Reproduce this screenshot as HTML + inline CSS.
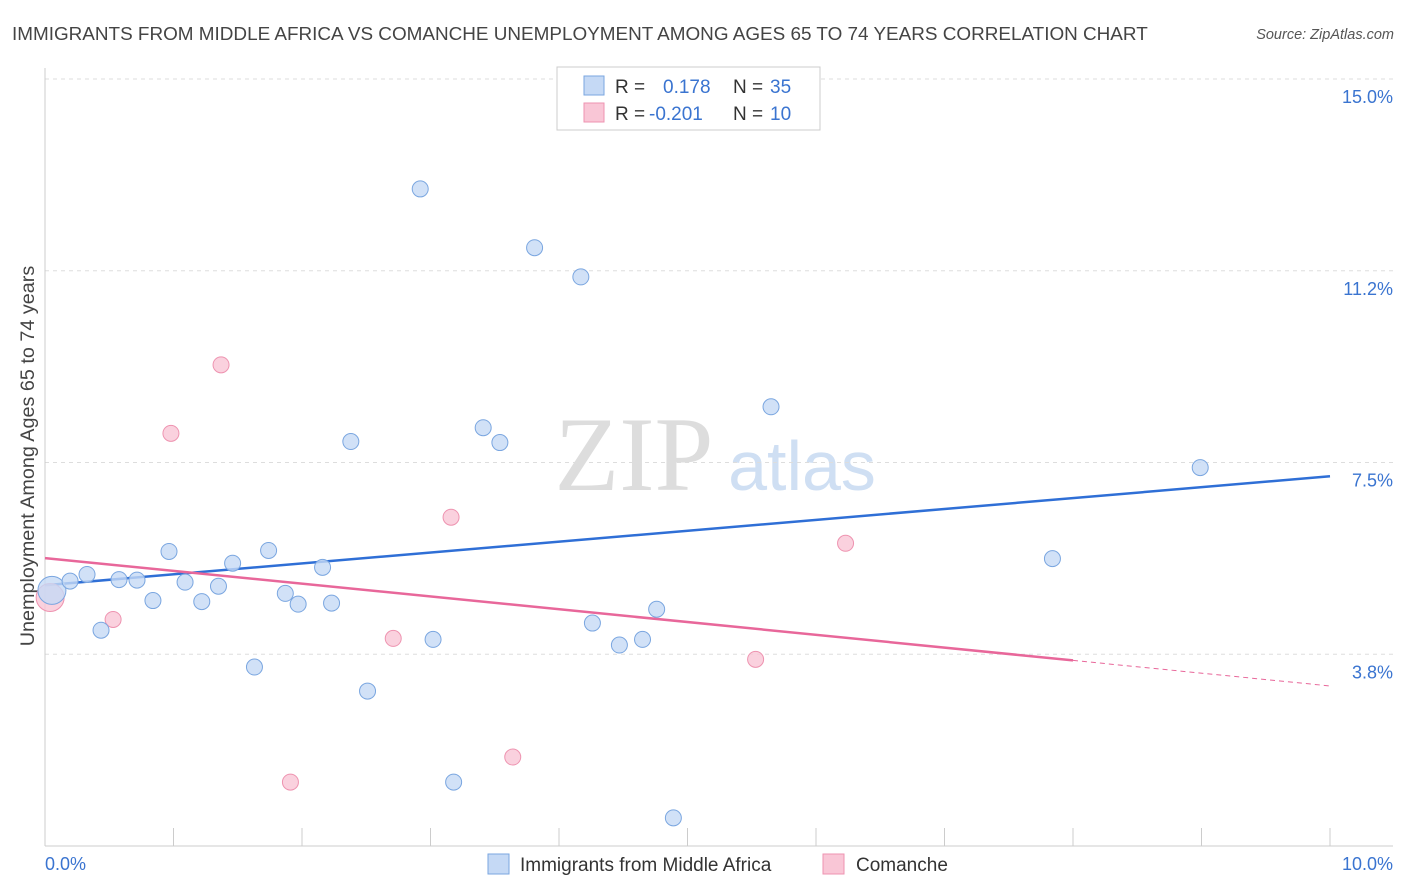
<!DOCTYPE html>
<html><head><meta charset="utf-8"><style>
body{margin:0;background:#fff;font-family:"Liberation Sans",sans-serif;}
svg{display:block}
</style></head><body>
<svg id="chart" width="1406" height="892">
<text x="12" y="40" font-size="18.9" fill="#444">IMMIGRANTS FROM MIDDLE AFRICA VS COMANCHE UNEMPLOYMENT AMONG AGES 65 TO 74 YEARS CORRELATION CHART</text>
<text x="1394" y="39" font-size="14.5" fill="#555" font-style="italic" text-anchor="end">Source: ZipAtlas.com</text>
<text transform="translate(34,456) rotate(-90)" font-size="19.8" fill="#444" text-anchor="middle">Unemployment Among Ages 65 to 74 years</text>
<g>
<text x="634" y="490" font-size="106" fill="#ddd" font-family="Liberation Serif,serif" text-anchor="middle">ZIP</text>
<text x="802" y="490" font-size="70" fill="#cfdff3" text-anchor="middle">atlas</text>
</g>
<g id="grid"></g><g id="axes"></g><g id="lines"></g><g id="pts"></g>
<g>
<rect x="557" y="67" width="263" height="63" fill="#fff" stroke="#ccc"/>
<rect x="584" y="76" width="20" height="19" fill="#c5d9f5" stroke="#7aa6e0"/>
<rect x="584" y="103" width="20" height="19" fill="#f9c6d6" stroke="#ee93b0"/>
<text x="615" y="93" font-size="19" fill="#333">R = <tspan x="663" fill="#3a74d0">0.178</tspan><tspan x="733" fill="#333">N = </tspan><tspan x="770" fill="#3a74d0">35</tspan></text>
<text x="615" y="120" font-size="19" fill="#333">R = <tspan x="649" fill="#3a74d0">-0.201</tspan><tspan x="733" fill="#333">N = </tspan><tspan x="770" fill="#3a74d0">10</tspan></text>
</g>
<g>
<rect x="488" y="854" width="21" height="20" fill="#c5d9f5" stroke="#7aa6e0"/>
<text x="520" y="871" font-size="19" fill="#333">Immigrants from Middle Africa</text>
<rect x="823" y="854" width="21" height="20" fill="#f9c6d6" stroke="#ee93b0"/>
<text x="856" y="871" font-size="19" fill="#333">Comanche</text>
</g>
</svg>
<script>
const blueX=[0.054,0.195,0.327,0.436,0.576,0.716,0.84,0.965,1.09,1.22,1.35,1.46,1.63,1.74,1.87,1.97,2.16,2.23,2.38,2.51,2.92,3.02,3.18,3.41,3.54,3.81,4.17,4.26,4.47,4.65,4.76,4.89,5.65,7.84,8.99];
const blueY=[5.0,5.18,5.31,4.22,5.21,5.2,4.8,5.76,5.16,4.78,5.08,5.53,3.5,5.78,4.94,4.73,5.45,4.75,7.91,3.03,12.85,4.04,1.25,8.18,7.89,11.7,11.13,4.36,3.93,4.04,4.63,0.55,8.59,5.62,7.4];
const pinkX=[0.04,0.53,0.98,1.37,1.91,2.71,3.16,3.64,5.53,6.23];
const pinkY=[4.86,4.43,8.07,9.41,1.25,4.06,6.43,1.74,3.65,5.92];
const yTicks=[3.75,7.5,11.25,15];
const yTickLabels=["3.8%","7.5%","11.2%","15.0%"];
const blueFit=[5.10,0.213];
const pinkFit=[5.63,-0.25];
const NS="http://www.w3.org/2000/svg";
const X0=45,X1=1330,YB=846,YT=79;
const sx=v=>X0+(v/10)*(X1-X0);
const sy=v=>YB-(v/15)*(YB-YT);
function mk(t,a,p){const e=document.createElementNS(NS,t);for(const k in a)e.setAttribute(k,a[k]);p.appendChild(e);return e;}
const grid=document.getElementById('grid'),axes=document.getElementById('axes'),lines=document.getElementById('lines'),pts=document.getElementById('pts');
yTicks.forEach((v,i)=>{
 const l=mk('line',{x1:X0,x2:1393,y1:sy(v),y2:sy(v),stroke:'#ddd','stroke-dasharray':'4,4'},grid);
 
 
 const t=mk('text',{x:1393,y:sy(v)+24,'font-size':18,fill:'#3a74d0','text-anchor':'end'},grid);
 t.textContent=yTickLabels[i];
 
 
});
let a=mk('line',{x1:X0,x2:X0,y1:68,y2:YB,stroke:'#ccc'},axes);


a=mk('line',{x1:X0,x2:1393,y1:YB,y2:YB,stroke:'#ccc'},axes);


for(let i=0;i<=10;i++){const t=mk('line',{x1:sx(i),x2:sx(i),y1:828,y2:YB,stroke:'#ccc'},axes);
 
 }
[["0.0%",45,'start'],["10.0%",1393,'end']].forEach(d=>{const t=mk('text',{x:d[1],y:870,'font-size':18,fill:'#3a74d0','text-anchor':d[2]},axes);t.textContent=d[0];
 
 });
function pt(x,y,r,f,s,n){const c=mk('circle',{cx:sx(x),cy:sy(y),r:r,fill:f,stroke:s,'stroke-width':1,'fill-opacity':0.8},pts);
 
 }
pinkX.forEach((x,i)=>pt(x,pinkY[i],i==0?14:8,'#f9c6d6','#ee93b0','comanche-point'));
blueX.forEach((x,i)=>pt(x,blueY[i],i==0?14:8,'#c5d9f5','#7aa6e0','immigrants-point'));
let L=mk('line',{x1:sx(0),y1:sy(blueFit[0]),x2:sx(10),y2:sy(blueFit[0]+10*blueFit[1]),stroke:'#2f6fd6','stroke-width':2.5},lines);


L=mk('line',{x1:sx(0),y1:sy(pinkFit[0]),x2:sx(8),y2:sy(pinkFit[0]+8*pinkFit[1]),stroke:'#e8679a','stroke-width':2.5},lines);


L=mk('line',{x1:sx(8),y1:sy(pinkFit[0]+8*pinkFit[1]),x2:sx(10),y2:sy(pinkFit[0]+10*pinkFit[1]),stroke:'#e8679a','stroke-width':1,'stroke-dasharray':'5,4'},lines);


</script>
</body></html>
